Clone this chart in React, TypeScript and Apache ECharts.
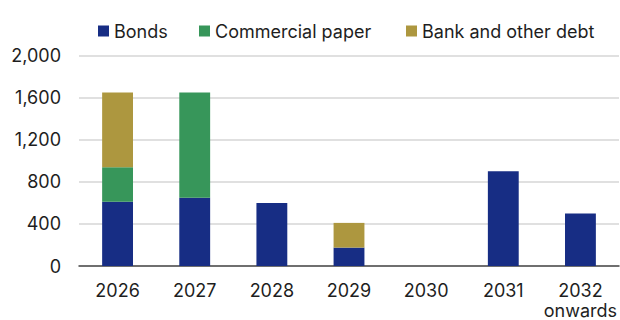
import React, { useEffect, useRef } from "react";
import * as echarts from "echarts";

const categories = ["2026", "2027", "2028", "2029", "2030", "2031", "2032\nonwards"];
const bonds = [610, 650, 600, 175, 0, 900, 500];
const commercialPaper = [330, 1000, 0, 0, 0, 0, 0];
const bankDebt = [710, 0, 0, 235, 0, 0, 0];
const seriesNames = ["Bonds", "Commercial paper", "Bank and other debt"];
const colors = ["#172D84", "#37965A", "#AD973F"];
const legendLefts = [93, 194, 401];

export default function App() {
  const ref = useRef<HTMLDivElement>(null);
  useEffect(() => {
    if (!ref.current) return;
    const chart = echarts.init(ref.current, undefined, { renderer: "svg" });
    const font = "Inter";
    const textColor = "#1e1e1e";
    const dataSets = [bonds, commercialPaper, bankDebt];
    chart.setOption({
      animation: false,
      color: colors,
      textStyle: { fontFamily: font },
      legend: seriesNames.map((name, i) => ({
        top: 17,
        left: legendLefts[i],
        itemWidth: 11,
        itemHeight: 11,
        icon: "rect",
        textStyle: { fontFamily: font, fontSize: 18, color: textColor },
        data: [name],
      })),
      grid: { left: 79, right: 0, top: 55.7, bottom: 52.5, containLabel: false },
      xAxis: {
        type: "category",
        data: categories,
        axisTick: { show: false },
        axisLine: { lineStyle: { color: "#4a4a4a", width: 1.5 } },
        axisLabel: {
          fontFamily: font,
          fontSize: 18,
          color: textColor,
          margin: 14,
          lineHeight: 20,
          interval: 0,
        },
      },
      yAxis: {
        type: "value",
        min: 0,
        max: 2000,
        interval: 400,
        axisLine: { show: false },
        axisTick: { show: false },
        splitLine: { lineStyle: { color: "#d6d6d6", width: 1.5 } },
        axisLabel: {
          fontFamily: font,
          fontSize: 18,
          color: textColor,
          margin: 18,
          formatter: (v: number) => v.toLocaleString("en-US"),
        },
      },
      series: seriesNames.map((name, i) => ({
        name,
        type: "bar",
        stack: "total",
        barWidth: "40%",
        data: dataSets[i],
        itemStyle: { color: colors[i] },
      })),
    });
    return () => chart.dispose();
  }, []);
  return (
    <div
      ref={ref}
      style={{ position: "fixed", left: 0, top: 0, width: 620, height: 320, background: "#fff" }}
    />
  );
}
